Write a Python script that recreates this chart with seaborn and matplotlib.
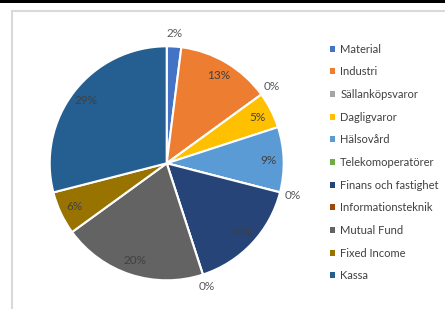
import matplotlib
matplotlib.use("Agg")
import matplotlib.pyplot as plt
import seaborn as sns
import numpy as np
from matplotlib.patches import Rectangle

categories = ["Material", "Industri", "Sällanköpsvaror", "Dagligvaror", "Hälsovård",
              "Telekomoperatörer", "Finans och fastighet", "Informationsteknik",
              "Mutual Fund", "Fixed Income", "Kassa"]
values = [2, 13, 0, 5, 9, 0, 16, 0, 20, 6, 29]
colors = ["#4472C4", "#ED7D31", "#A5A5A5", "#FFC000", "#5B9BD5", "#70AD47",
          "#264478", "#9E480E", "#636363", "#997300", "#255E91"]
outside = [True, False, True, False, False, True, False, True, False, False, False]

sns.set_theme(style="white")
plt.rcParams['font.family'] = ['Lato', 'DejaVu Sans']
palette = sns.color_palette(colors)

W, H = 445, 309
fig = plt.figure(figsize=(W / 100, H / 100), dpi=100)
fig.patch.set_facecolor("white")

# frame decorations
fig.patches.append(Rectangle((0, 1 - 3 / H), 1, 3 / H, transform=fig.transFigure,
                             facecolor="black", edgecolor="none", zorder=0))
fig.lines.append(plt.Line2D([12 / W, 1], [1 - 10.5 / H, 1 - 10.5 / H], transform=fig.transFigure,
                            color="#d9d9d9", lw=1.5))
fig.lines.append(plt.Line2D([12 / W, 12 / W], [0, 1 - 10.5 / H], transform=fig.transFigure,
                            color="#d9d9d9", lw=1.5))

cx, cy, R = 166.7, 163.3, 117
ax = fig.add_axes([(cx - R) / W, (H - cy - R) / H, 2 * R / W, 2 * R / H])
wedges, _ = ax.pie(values, colors=palette, startangle=90, counterclock=False,
                   wedgeprops=dict(edgecolor="white", linewidth=1.5))
ax.set_xlim(-1, 1)
ax.set_ylim(-1, 1)
ax.set_aspect("equal")
ax.axis("off")

for w, v, out in zip(wedges, values, outside):
    mid = np.deg2rad((w.theta1 + w.theta2) / 2)
    r = 1.11 if out else 0.87
    ax.text(r * np.cos(mid), r * np.sin(mid), f"{v}%", ha="center", va="center",
            fontsize=8.5, color="#595959" if out else "#404040", clip_on=False)

leg = fig.legend(wedges, categories, loc="upper left",
                 bbox_to_anchor=(324 / W, 1 - 38 / H), frameon=False,
                 fontsize=8, labelcolor="#404040", handlelength=0.45, handleheight=0.45,
                 handletextpad=0.5, labelspacing=1.05, borderpad=0)
for h in leg.legend_handles:
    h.set_edgecolor("none")

fig.savefig("out.png", dpi=100, facecolor="white")
